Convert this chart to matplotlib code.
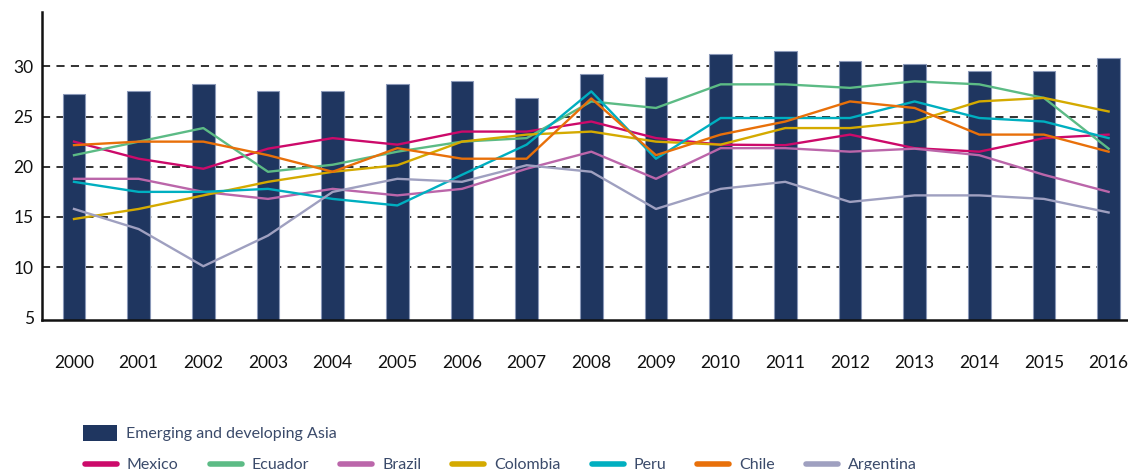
import matplotlib.pyplot as plt
from matplotlib.patches import Patch
from matplotlib.lines import Line2D

# ---- data ----
years = [str(y) for y in range(2000, 2017)]

asia = [27.2, 27.55, 28.2, 27.55, 27.55, 28.2, 28.55, 26.85, 29.2, 28.9,
        31.2, 31.5, 30.5, 30.2, 29.5, 29.5, 30.85]

mexico = [22.5, 20.8, 19.8, 21.8, 22.85, 22.2, 23.5, 23.5, 24.5, 22.85,
          22.2, 22.15, 23.2, 21.85, 21.5, 22.85, 23.2]
ecuador = [21.15, 22.5, 23.85, 19.5, 20.2, 21.5, 22.5, 22.85, 26.5, 25.85,
           28.2, 28.2, 27.85, 28.5, 28.2, 26.85, 21.8]
brazil = [18.8, 18.8, 17.5, 16.8, 17.8, 17.15, 17.8, 19.8, 21.5, 18.8,
          21.85, 21.85, 21.5, 21.8, 21.15, 19.2, 17.5]
colombia = [14.8, 15.8, 17.15, 18.5, 19.5, 20.15, 22.5, 23.2, 23.5, 22.5,
            22.2, 23.85, 23.85, 24.5, 26.5, 26.85, 25.5]
peru = [18.5, 17.5, 17.5, 17.8, 16.8, 16.15, 19.2, 22.2, 27.5, 20.8,
        24.85, 24.85, 24.85, 26.5, 24.85, 24.5, 22.85]
chile = [22.15, 22.5, 22.5, 21.15, 19.5, 21.85, 20.8, 20.8, 26.8, 21.15,
         23.2, 24.5, 26.5, 25.85, 23.2, 23.2, 21.5]
argentina = [15.8, 13.8, 10.1, 13.15, 17.5, 18.8, 18.5, 20.15, 19.5, 15.8,
             17.8, 18.5, 16.5, 17.15, 17.15, 16.8, 15.45]

series_names = ["Mexico", "Ecuador", "Brazil", "Colombia", "Peru", "Chile", "Argentina"]
series_values = [mexico, ecuador, brazil, colombia, peru, chile, argentina]
series_colors = ["#CC0A6A", "#5CBB85", "#BB66AA", "#D4AA00", "#00AFC0", "#E8700A", "#9FA0C0"]

bar_color = "#1F3660"
text_color = "#3A4A6A"

plt.rcParams["font.family"] = ["Lato", "DejaVu Sans"]

fig = plt.figure(figsize=(11.28, 4.70), dpi=100)
W, H = 1128, 470
ax = fig.add_axes([42 / W, 150 / H, (1128 - 42) / W, (320 - 12) / H])

x = list(range(len(years)))

# grid (behind bars)
for g in [10, 15, 20, 25, 30]:
    ax.axhline(g, xmin=0, xmax=0.99, color="#222222", lw=1.3,
               ls=(0, (4.5, 3.5)), zorder=0)

ax.bar(x, asia, width=0.35, color=bar_color, edgecolor="#8A98B8",
       linewidth=0.8, zorder=2)

for vals, col in zip(series_values, series_colors):
    ax.plot(x, vals, color=col, lw=1.7, zorder=3)

ax.set_xlim(-0.495, 16.3)
ax.set_ylim(4.75, 35.4)

ax.set_yticks([5, 10, 15, 20, 25, 30])
ax.set_xticks(x)
ax.set_xticklabels(years)
ax.tick_params(axis="both", length=0, labelsize=12.5, colors="#111111")
ax.tick_params(axis="x", pad=25)
ax.tick_params(axis="y", pad=6)

for s in ["top", "right"]:
    ax.spines[s].set_visible(False)
ax.spines["left"].set_linewidth(1.8)
ax.spines["bottom"].set_linewidth(1.8)
ax.spines["left"].set_color("#111111")
ax.spines["bottom"].set_color("#111111")

# legends
leg1 = fig.legend(handles=[Patch(facecolor=bar_color, edgecolor="none")],
                  labels=["Emerging and developing Asia"],
                  loc="center left", bbox_to_anchor=(83 / W, 37 / H),
                  frameon=False, fontsize=11.5, handlelength=2.1,
                  handleheight=1.2, handletextpad=0.62, borderpad=0,
                  borderaxespad=0, labelcolor=text_color)

line_handles = [Line2D([0], [0], color=c, lw=4, solid_capstyle="round")
                for c in series_colors]
leg2 = fig.legend(handles=line_handles, labels=series_names,
                  loc="center left", bbox_to_anchor=(85 / W, 5 / H),
                  ncol=7, frameon=False, fontsize=11.5, handlelength=2.0,
                  handletextpad=0.62, columnspacing=1.95, borderpad=0,
                  borderaxespad=0, labelcolor=text_color)

fig.savefig("out.png", dpi=100)
